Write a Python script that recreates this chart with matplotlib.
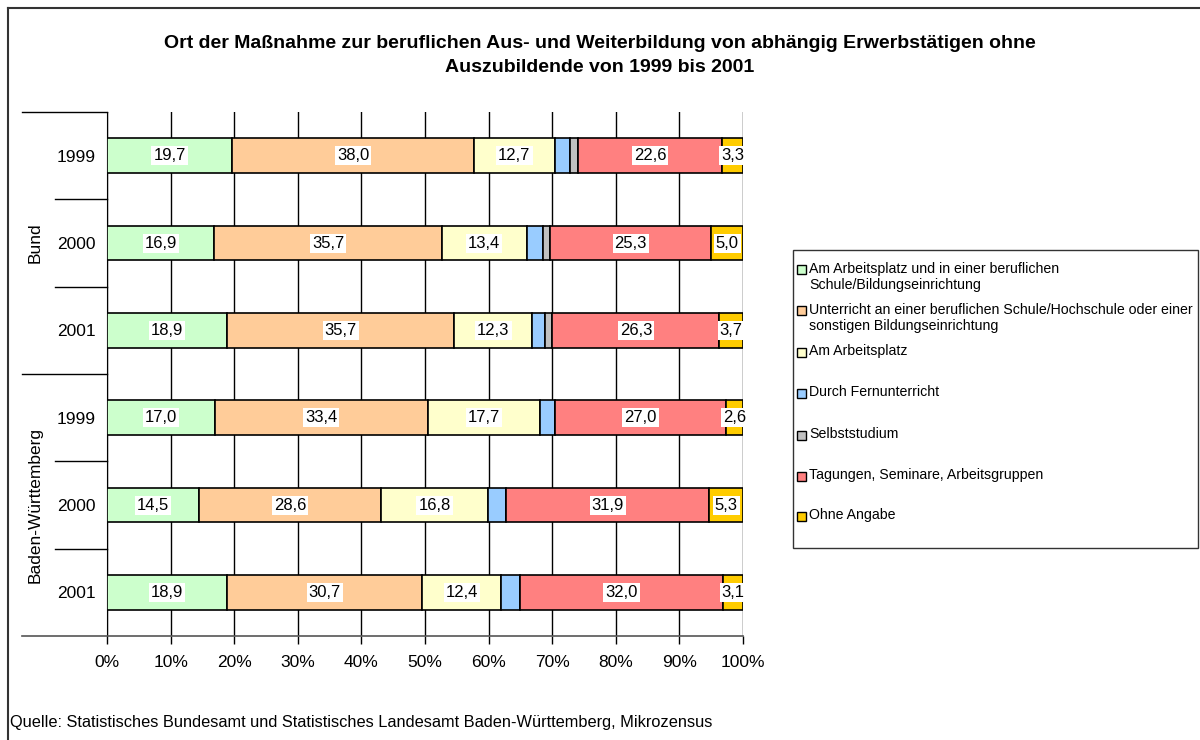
import matplotlib
matplotlib.use("Agg")
import matplotlib.pyplot as plt
from matplotlib.patches import Rectangle
from matplotlib.lines import Line2D
import matplotlib.transforms as mtransforms

plt.rcParams['font.family'] = ['Liberation Sans', 'DejaVu Sans']

years = ["1999", "2000", "2001", "1999", "2000", "2001"]
groups = ["Bund", "Baden-Württemberg"]
series_names = [
    "Am Arbeitsplatz und in einer beruflichen\nSchule/Bildungseinrichtung",
    "Unterricht an einer beruflichen Schule/Hochschule oder einer\nsonstigen Bildungseinrichtung",
    "Am Arbeitsplatz",
    "Durch Fernunterricht",
    "Selbststudium",
    "Tagungen, Seminare, Arbeitsgruppen",
    "Ohne Angabe",
]
arbeitsplatz_schule = [19.7, 16.9, 18.9, 17.0, 14.5, 18.9]
unterricht = [38.0, 35.7, 35.7, 33.4, 28.6, 30.7]
arbeitsplatz = [12.7, 13.4, 12.3, 17.7, 16.8, 12.4]
fernunterricht = [2.4, 2.5, 2.0, 2.3, 2.9, 2.9]
selbststudium = [1.3, 1.2, 1.1, 0.0, 0.0, 0.0]
tagungen = [22.6, 25.3, 26.3, 27.0, 31.9, 32.0]
ohne_angabe = [3.3, 5.0, 3.7, 2.6, 5.3, 3.1]
series = [arbeitsplatz_schule, unterricht, arbeitsplatz, fernunterricht,
          selbststudium, tagungen, ohne_angabe]
labeled = [True, True, True, False, False, True, True]
colors = ["#CCFFCC", "#FFCC99", "#FFFFCC", "#99CCFF", "#C0C0C0", "#FF8080", "#FFCC00"]

W, H = 1200, 740
fig = plt.figure(figsize=(12, 7.4), dpi=100)

def fx(px):
    return px / W

def fy(py):
    return 1 - py / H

# outer border (top and left visible)
fig.add_artist(Line2D([fx(8), fx(8)], [fy(8), fy(745)], color="#333333", lw=1.5))
fig.add_artist(Line2D([fx(8), fx(1205)], [fy(8), fy(8)], color="#333333", lw=1.5))

ax = fig.add_axes([fx(107), fy(636), fx(743) - fx(107), fy(112) - fy(636)])
ax.set_xlim(0, 100)
ax.set_ylim(5.5, -0.5)

ypos = list(range(len(years)))
left = [0.0] * len(years)
for vals, col, lab in zip(series, colors, labeled):
    ax.barh(ypos, vals, left=left, height=0.4, color=col, edgecolor="black",
            linewidth=1.2, zorder=3)
    if lab:
        for i, v in enumerate(vals):
            ax.text(left[i] + v / 2, i, f"{v:.1f}".replace(".", ","), ha="center",
                    va="center", fontsize=12, zorder=5,
                    bbox=dict(facecolor="white", edgecolor="none", pad=1.5))
    left = [l + v for l, v in zip(left, vals)]

ax.set_xticks(range(0, 101, 10))
ax.set_xticklabels([f"{t}%" for t in range(0, 101, 10)], fontsize=12.5)
ax.set_yticks(ypos)
ax.set_yticklabels(years, fontsize=12.5)
ax.tick_params(axis="y", length=0, pad=8)
ax.tick_params(axis="x", length=6, width=1, color="black", pad=8)
ax.grid(axis="x", color="black", lw=1, zorder=0)
for s in ["top", "right"]:
    ax.spines[s].set_visible(False)
ax.spines["left"].set_color("black")
ax.spines["bottom"].set_visible(False)

# category divider lines
trans = mtransforms.blended_transform_factory(fig.transFigure, ax.transData)
for y in [0.5, 1.5, 3.5, 4.5]:
    fig.add_artist(Line2D([fx(55), fx(107)], [y, y], transform=trans, color="black", lw=1))
for y in [-0.5, 2.5]:
    fig.add_artist(Line2D([fx(22), fx(107)], [y, y], transform=trans, color="black", lw=1))
fig.add_artist(Line2D([fx(22), fx(743)], [5.5, 5.5], transform=trans, color="#555555", lw=1.2))

fig.text(fx(35), fy(243), groups[0], rotation=90, ha="center", va="center", fontsize=12.5)
fig.text(fx(35), fy(505), groups[1], rotation=90, ha="center", va="center", fontsize=12.5)

# title
fig.text(0.5, fy(43), "Ort der Maßnahme zur beruflichen Aus- und Weiterbildung von abhängig Erwerbstätigen ohne",
         ha="center", va="center", fontsize=14, fontweight="bold")
fig.text(0.5, fy(68), "Auszubildende von 1999 bis 2001",
         ha="center", va="center", fontsize=14, fontweight="bold")

# legend (manual, Excel style)
fig.add_artist(Rectangle((fx(793), fy(548)), fx(1198) - fx(793), fy(250) - fy(548),
                         facecolor="white", edgecolor="#333333", lw=1))
entry_y = [270, 311, 352, 393, 435, 476, 516]
for name, col, yy in zip(series_names, colors, entry_y):
    fig.add_artist(Rectangle((fx(797), fy(yy + 4.5)), fx(9), 9 / H,
                             facecolor=col, edgecolor="black", lw=1))
    fig.text(fx(809), fy(yy - 8), name, ha="left", va="top", fontsize=10.2,
             linespacing=1.2)

fig.text(fx(10), fy(723), "Quelle: Statistisches Bundesamt und Statistisches Landesamt Baden-Württemberg, Mikrozensus",
         ha="left", va="center", fontsize=11.8)

fig.savefig("out.png", dpi=100, facecolor="white")
